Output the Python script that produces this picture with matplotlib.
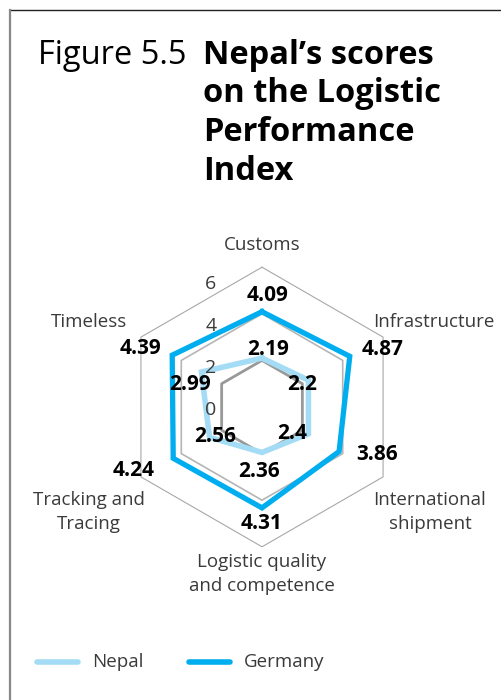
import matplotlib.pyplot as plt
import numpy as np
from matplotlib import font_manager

categories = ["Customs", "Infrastructure", "International\nshipment",
              "Logistic quality\nand competence", "Tracking and\nTracing", "Timeless"]
nepal = [2.10, 2.30, 2.30, 1.95, 2.60, 3.00]
germany = [4.09, 4.35, 3.82, 4.33, 4.40, 4.45]
nepal_labels = ["2.19", "2.2", "2.4", "2.36", "2.56", "2.99"]
germany_labels = ["4.09", "4.87", "3.86", "4.31", "4.24", "4.39"]
rings = [2, 4, 6]
tick_values = [6, 4, 2, 0]

NEPAL_C = "#a4dcf5"
GERMANY_C = "#00aeef"
TXT = "#3a3a3a"

names = {f.name for f in font_manager.fontManager.ttflist}
FONT = "Open Sans" if "Open Sans" in names else "DejaVu Sans"
plt.rcParams["font.family"] = [FONT, "DejaVu Sans"]


def main():
    W, H = 502, 700
    fig = plt.figure(figsize=(W / 100, H / 100), dpi=100)
    fig.patch.set_facecolor("white")

    # chart axes in value units: centre at pixel (262, 407), 23.3 px per unit
    cx, cy, scale = 262, 407, 23.3
    ax = fig.add_axes([0, 0, 1, 1])
    ax.set_xlim(-cx / scale, (W - cx) / scale)
    ax.set_ylim(-(H - cy) / scale, cy / scale)
    ax.axis("off")

    angles = np.deg2rad(90 - 60 * np.arange(len(categories)))
    ca, sa = np.cos(angles), np.sin(angles)

    def closed(r):
        r = np.asarray(r, dtype=float)
        x, y = r * ca, r * sa
        return np.append(x, x[0]), np.append(y, y[0])

    for r in rings:
        x, y = closed(np.full(len(categories), r))
        if r == 2:
            ax.plot(x, y, color="#999999", lw=2.0, zorder=1)
        elif r == 4:
            ax.plot(x, y, color="#b5b5b5", lw=1.2, zorder=1)
        else:
            ax.plot(x, y, color="#a8a8a8", lw=0.8, zorder=1)

    x, y = closed(nepal)
    ax.plot(x, y, color=NEPAL_C, lw=4, solid_joinstyle="miter", zorder=3)
    x, y = closed(germany)
    ax.plot(x, y, color=GERMANY_C, lw=3.8, solid_joinstyle="miter", zorder=4)

    # radial tick labels along a column left of centre (21 px per unit there)
    for v in tick_values:
        ax.text(-51 / scale, (-3 + 21 * v) / scale, str(v), ha="center",
                va="center", fontsize=14, color=TXT, zorder=5)

    # value labels (pixel offsets from the vertex)
    g_off = [(6, 16), (33, 7), (38, -3), (0, -16), (-40, -12), (-32, 7)]
    n_off = [(6, 9), (-6, -4), (-16, 0), (-3, -19), (6, 1), (-11, -12)]
    for i in range(len(categories)):
        gx, gy = germany[i] * ca[i], germany[i] * sa[i]
        dx, dy = g_off[i]
        ax.text(gx + dx / scale, gy + dy / scale, germany_labels[i], ha="center",
                va="center", fontsize=15, fontweight="bold", color="black", zorder=6)
        nx, ny = nepal[i] * ca[i], nepal[i] * sa[i]
        dx, dy = n_off[i]
        ax.text(nx + dx / scale, ny + dy / scale, nepal_labels[i], ha="center",
                va="center", fontsize=15, fontweight="bold", color="black", zorder=6)

    # category labels
    cat_pos = [(0, 162), (172, 85), (168, -105), (0, -167), (-173, -105), (-173, 85)]
    for lab, (px, py) in zip(categories, cat_pos):
        ax.text(px / scale, py / scale, lab, ha="center", va="center", fontsize=13.5,
                color=TXT, linespacing=1.4)

    # title
    base = 1 - 64 / H
    fig.text(38 / W, base, "Figure 5.5", ha="left", va="baseline",
             fontsize=23.5, color="black")
    step = 38.5 / H
    for k, line in enumerate(["Nepal\u2019s scores", "on the Logistic",
                              "Performance", "Index"]):
        fig.text(203 / W, base - k * step, line, ha="left", va="baseline",
                 fontsize=23.5, fontweight="bold", color="black")

    # legend
    ly = 1 - 662 / H
    fig.lines.append(plt.Line2D([37 / W, 78 / W], [ly, ly], color=NEPAL_C, lw=4,
                                solid_capstyle="round", transform=fig.transFigure))
    fig.text(92 / W, ly, "Nepal", ha="left", va="center", fontsize=13.5, color=TXT)
    fig.lines.append(plt.Line2D([189 / W, 230 / W], [ly, ly], color=GERMANY_C, lw=4,
                                solid_capstyle="round", transform=fig.transFigure))
    fig.text(244 / W, ly, "Germany", ha="left", va="center", fontsize=13.5, color=TXT)

    # frame: dark top rule and grey left rule
    top = 1 - 9.5 / H
    fig.lines.append(plt.Line2D([9.5 / W, 1.0], [top, top], color="#222222", lw=1.0,
                                transform=fig.transFigure))
    fig.lines.append(plt.Line2D([10 / W, 10 / W], [0, top], color="#888888", lw=1.6,
                                transform=fig.transFigure))

    fig.savefig("out.png", dpi=100, facecolor="white")
    plt.close(fig)


if __name__ == "__main__":
    main()
